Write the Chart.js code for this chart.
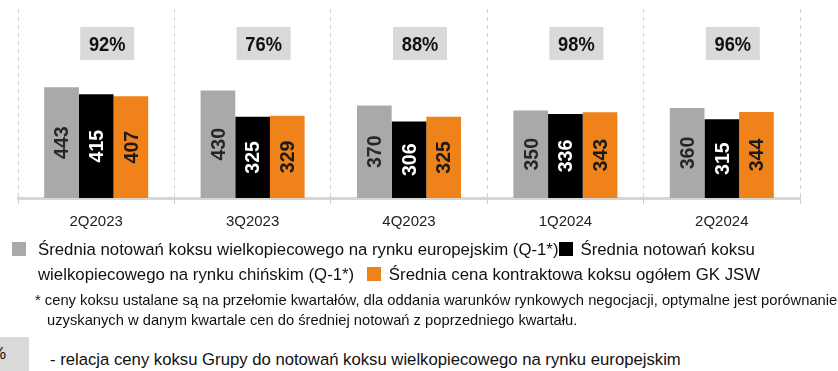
<!DOCTYPE html>
<html lang="pl">
<head>
<meta charset="utf-8">
<script src="https://cdn.jsdelivr.net/npm/chart.js@4.4.1/dist/chart.umd.min.js"></script>
<style>
  html, body { margin: 0; padding: 0; background: #fff; }
  body { width: 838px; height: 371px; position: relative; overflow: hidden; font-family: "Liberation Sans", Arial, sans-serif; color: #111; }
  #chartBox { position: absolute; left: 0; top: 0; width: 838px; height: 240px; }
  #legend { position: absolute; left: 12px; top: 237px; width: 760px; font-size: 16.8px; line-height: 25px; padding-left: 26px; text-indent: -26px; }
  #legend .sw { display: inline-block; width: 14px; height: 14px; vertical-align: -1px; text-indent: 0; }
  .note { position: absolute; white-space: nowrap; font-size: 15px; transform-origin: 0 0; }
  #pctKey { position: absolute; left: -40px; top: 337px; width: 69px; height: 34px; background: #d9d9d9; font-size: 17px; line-height: 34px; text-align: right; }
  #pctKey span { position: absolute; right: 23px; }
  #pctText { position: absolute; left: 50px; top: 350px; font-size: 16.7px; white-space: nowrap; }
</style>
</head>
<body>
<div id="chartBox"><canvas id="cokeChart" width="838" height="240"></canvas></div>
<div id="legend"></div>
<div class="note" id="note1" style="left:35px; top:291px;">* ceny koksu ustalane są na przełomie kwartałów, dla oddania warunków rynkowych negocjacji, optymalne jest porównanie</div>
<div class="note" id="note2" style="left:47px; top:311px;">uzyskanych w danym kwartale cen do średniej notowań z poprzedniego kwartału.</div>
<div id="pctKey"><span>%</span></div>
<div id="pctText">- relacja ceny koksu Grupy do notowań koksu wielkopiecowego na rynku europejskim</div>

<script>
// Quarterly coke prices [USD/t]
const quarters = ['2Q2023', '3Q2023', '4Q2023', '1Q2024', '2Q2024'];
const europeAvg = [443, 430, 370, 350, 360];
const chinaAvg = [415, 325, 306, 336, 315];
const jswPrice = [407, 329, 325, 343, 344];
// JSW price relative to the European average [%]
const priceRatio = [92, 76, 88, 98, 96];

const seriesNames = [
    'Średnia notowań koksu wielkopiecowego na rynku europejskim (Q-1*)',
    'Średnia notowań koksu wielkopiecowego na rynku chińskim (Q-1*)',
    'Średnia cena kontraktowa koksu ogółem GK JSW'
];
const barColors = ['#a9a9a9', '#000000', '#ef8219'];
const valueColors = ['#262626', '#ffffff', '#1a1a1a'];

const baseFont = '"Liberation Sans", Arial, sans-serif';

// Values written vertically inside each bar
const barValuesPlugin = {
    id: 'barValues',
    afterDatasetsDraw(chart) {
        const ctx = chart.ctx;
        chart.data.datasets.forEach((ds, di) => {
            const meta = chart.getDatasetMeta(di);
            meta.data.forEach((bar, i) => {
                ctx.save();
                ctx.translate(bar.x + 1, (bar.y + bar.base) / 2);
                ctx.rotate(-Math.PI / 2);
                ctx.scale(0.93, 1);
                ctx.font = 'bold 21px ' + baseFont;
                ctx.fillStyle = valueColors[di];
                ctx.textAlign = 'center';
                ctx.textBaseline = 'middle';
                ctx.fillText(String(ds.data[i]), 0, 0);
                ctx.restore();
            });
        });
    }
};

// Grey boxes with the ratio above each quarter
const ratioBoxPlugin = {
    id: 'ratioBoxes',
    afterDraw(chart) {
        const ctx = chart.ctx;
        const xScale = chart.scales.x;
        priceRatio.forEach((ratio, i) => {
            const cx = xScale.getPixelForValue(i) + 11;
            ctx.save();
            ctx.fillStyle = '#d9d9d9';
            ctx.fillRect(cx - 27, 27, 54, 33);
            ctx.translate(cx, 45);
            ctx.scale(0.87, 1);
            ctx.font = 'bold 21px ' + baseFont;
            ctx.fillStyle = '#111111';
            ctx.textAlign = 'center';
            ctx.textBaseline = 'middle';
            ctx.fillText(ratio + '%', 0, 0);
            ctx.restore();
        });
    }
};

const cokeChart = new Chart(document.getElementById('cokeChart'), {
    type: 'bar',
    data: {
        labels: quarters,
        datasets: [
            { label: seriesNames[0], data: europeAvg, backgroundColor: barColors[0] },
            { label: seriesNames[1], data: chinaAvg, backgroundColor: barColors[1] },
            { label: seriesNames[2], data: jswPrice, backgroundColor: barColors[2] }
        ]
    },
    options: {
        responsive: false,
        animation: false,
        categoryPercentage: 0.665,
        barPercentage: 1,
        layout: { padding: { left: 18, right: 38, top: 9, bottom: 0 } },
        plugins: {
            legend: { display: false },
            tooltip: { enabled: false }
        },
        scales: {
            x: {
                grid: {
                    offset: true,
                    color: '#d4d4d4',
                    lineWidth: 1,
                    drawTicks: true,
                    tickLength: 6,
                    tickColor: '#cfcfcf',
                    tickBorderDash: []
                },
                border: { display: true, color: '#d6d6d6', width: 3, dash: [4, 4] },
                ticks: {
                    color: '#222222',
                    font: { family: baseFont, size: 15 },
                    padding: 9
                }
            },
            y: {
                display: false,
                min: 0,
                max: 756
            }
        }
    },
    plugins: [barValuesPlugin, ratioBoxPlugin]
});

// Inline legend that wraps like running text
const legendEl = document.getElementById('legend');
const swatchGaps = [[0, 12], [1, 7], [8, 8]];
cokeChart.data.datasets.forEach((ds, di) => {
    const sw = document.createElement('span');
    sw.className = 'sw';
    sw.style.background = ds.backgroundColor;
    sw.style.marginLeft = swatchGaps[di][0] + 'px';
    sw.style.marginRight = swatchGaps[di][1] + 'px';
    legendEl.appendChild(sw);
    legendEl.appendChild(document.createTextNode(ds.label + (di === 1 ? ' ' : '')));
});

// Footnote lines are set in a condensed width
function fitWidth(id, width) {
    const el = document.getElementById(id);
    el.style.transform = 'scaleX(' + (width / el.offsetWidth) + ')';
}
fitWidth('note1', 802);
fitWidth('note2', 530);
</script>
</body>
</html>
